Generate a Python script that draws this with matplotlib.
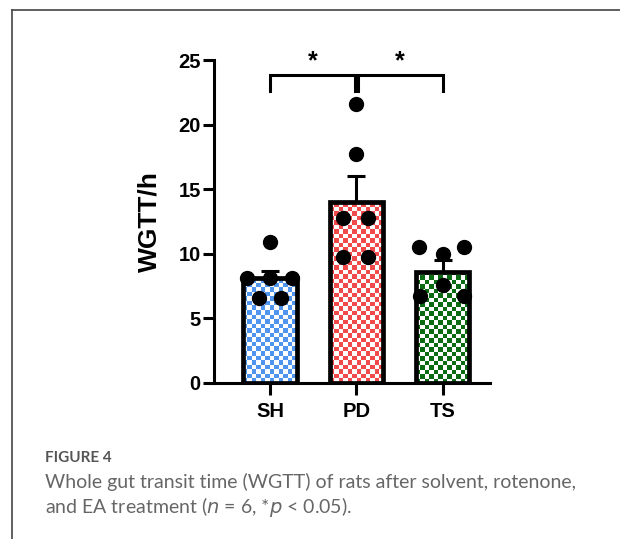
import numpy as np
import matplotlib as mpl

mpl.use("Agg")
import matplotlib.pyplot as plt
from matplotlib.lines import Line2D
from matplotlib.colors import to_rgba

# data
groups = ["SH", "PD", "TS"]
means = [8.1, 14.0, 8.6]
sem = [0.6, 2.0, 0.9]
points = [
    [10.9, 8.1, 8.1, 8.1, 6.6, 6.6],
    [21.6, 17.7, 12.8, 12.8, 9.75, 9.75],
    [10.55, 10.55, 9.95, 7.55, 6.7, 6.7],
]
colors = ["#4f95ef", "#f24a4a", "#0b6b12"]
sig_pairs = [(0, 1), (1, 2)]

# layout / styling only (horizontal scatter of the dots inside each bar)
jitter = [
    [0.0, -0.27, 0.0, 0.25, -0.13, 0.13],
    [0.0, 0.0, -0.16, 0.14, -0.16, 0.14],
    [-0.27, 0.25, 0.0, 0.0, -0.26, 0.25],
]

plt.rcParams["font.family"] = ["Liberation Sans", "DejaVu Sans"]

fig = plt.figure(figsize=(6.2, 5.39), dpi=100)

# frame lines of the figure panel (top + left)
fig.add_artist(Line2D([12 / 620, 1], [1 - 10 / 539] * 2, color="#444444", lw=1.2))
fig.add_artist(Line2D([12 / 620] * 2, [0, 1 - 10 / 539], color="#444444", lw=1.2))

ax = fig.add_axes([214 / 620, 1 - 383 / 539, 276 / 620, 323 / 539])
width = 0.62
x = np.arange(len(groups))


def checker(ax, xc, h, color):
    # checkerboard fill, cells ~4.5 px
    ncol = 12
    nrow = max(1, int(round(h * 12.9 / 4.5)))
    ii, jj = np.meshgrid(np.arange(nrow), np.arange(ncol), indexing="ij")
    img = np.ones((nrow, ncol, 4))
    c = np.array(to_rgba(color))
    img[(ii + jj) % 2 == 0] = c
    ax.imshow(img, extent=(xc - width / 2, xc + width / 2, 0, h), origin="lower",
              aspect="auto", interpolation="nearest", zorder=1)


for i in range(len(groups)):
    checker(ax, x[i], means[i], colors[i])
    ax.bar(x[i], means[i], width=width, facecolor="none", edgecolor="black",
           linewidth=3.4, zorder=2)
    ax.errorbar(x[i], means[i], yerr=[[0], [sem[i]]], fmt="none", ecolor="black",
                elinewidth=2.2, capsize=6.5, capthick=2.2, zorder=3)
    ax.scatter(x[i] + np.array(jitter[i]), points[i], s=100, color="black",
               zorder=4, clip_on=False)

# significance brackets
yb, yl = 23.85, 22.6
for a, b in sig_pairs:
    xa = x[a] + (0.015 if a == 1 else 0)
    xb = x[b] - (0.015 if b == 1 else 0)
    ax.plot([xa, xa, xb, xb], [yl, yb, yb, yl], color="black", lw=2.2,
            clip_on=False, solid_joinstyle="miter", zorder=5)
    ax.text((x[a] + x[b]) / 2, 24.9, "*", ha="center", va="center",
            fontsize=18, fontweight="bold", clip_on=False)

ax.set_xlim(-0.65, 2.55)
ax.set_ylim(0, 25)
ax.set_yticks([0, 5, 10, 15, 20, 25])
ax.set_xticks(x)
ax.set_xticklabels(groups)
for s in ["top", "right"]:
    ax.spines[s].set_visible(False)
for s in ["left", "bottom"]:
    ax.spines[s].set_linewidth(2.2)
ax.tick_params(axis="y", length=8, width=2.2, labelsize=14.5, pad=1.5)
ax.tick_params(axis="x", length=8.5, width=2.2, labelsize=14.5, pad=5)
for lab in ax.get_xticklabels() + ax.get_yticklabels():
    lab.set_fontweight("bold")
ax.set_ylabel("WGTT/h", fontsize=19, fontweight="bold", labelpad=12)

# caption
cap_font = ["Lato", "DejaVu Sans"]
fig.text(45 / 620, 1 - 458 / 539, "FIGURE 4", fontsize=11, color="#555555",
         family=cap_font, fontweight="bold", va="center")
fig.text(45 / 620, 1 - 482 / 539,
         "Whole gut transit time (WGTT) of rats after solvent, rotenone,",
         fontsize=14, color="#666666", family=cap_font, va="center")
fig.text(45 / 620, 1 - 507 / 539,
         r"and EA treatment ($n$ = 6, *$p$ < 0.05).",
         fontsize=14, color="#666666", family=cap_font, va="center")

fig.savefig("out.png", dpi=100)
